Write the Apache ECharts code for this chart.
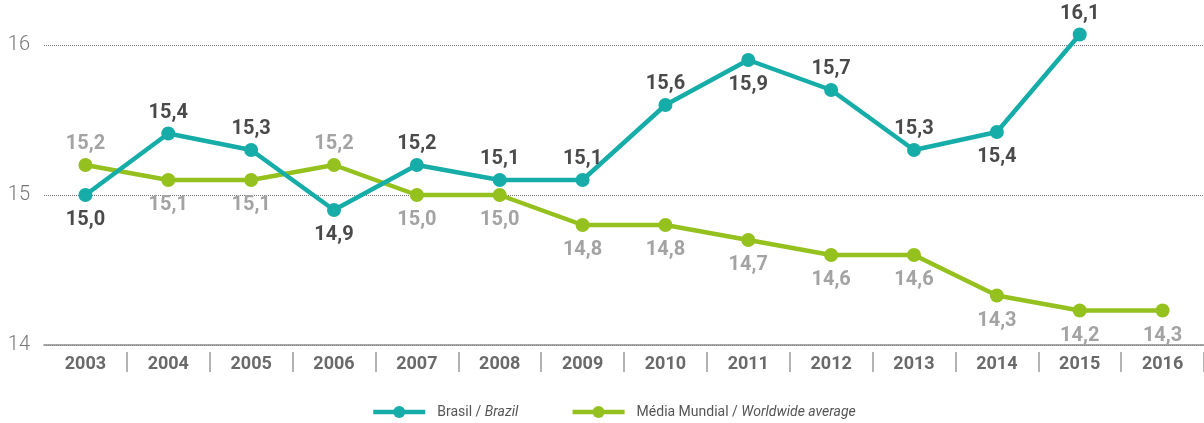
<!DOCTYPE html>
<html>
<head>
<meta charset="utf-8">
<script src="https://cdn.jsdelivr.net/npm/echarts@6/dist/echarts.min.js"></script>
<style>html,body{margin:0;padding:0;background:#fff}#c{width:1204px;height:423px}</style>
</head>
<body>
<div id="c"></div>
<script>
var years = ['2003','2004','2005','2006','2007','2008','2009','2010','2011','2012','2013','2014','2015','2016'];
var brazil = [15.0,15.41,15.3,14.9,15.2,15.1,15.1,15.6,15.9,15.7,15.3,15.42,16.07,null];
var brazilLabels = ['15,0','15,4','15,3','14,9','15,2','15,1','15,1','15,6','15,9','15,7','15,3','15,4','16,1',''];
var brazilPos = ['bottom','top','top','bottom','top','top','top','top','bottom','top','top','bottom','top','top'];
var world = [15.2,15.1,15.1,15.2,15.0,15.0,14.8,14.8,14.7,14.6,14.6,14.33,14.23,14.23];
var worldLabels = ['15,2','15,1','15,1','15,2','15,0','15,0','14,8','14,8','14,7','14,6','14,6','14,3','14,2','14,3'];
var worldPos = ['top','bottom','bottom','top','bottom','bottom','bottom','bottom','bottom','bottom','bottom','bottom','bottom','bottom'];
var yTicks = {min:14, max:16, interval:1};

var FONT = 'Roboto';
function mk(vals, labels, pos){
  return vals.map(function(v,i){
    return {value:v, label:{position:pos[i], formatter:labels[i], distance:(pos[i]==='top'?4:8)}};
  });
}
var chart = echarts.init(document.getElementById('c'), null, {renderer:'canvas'});
chart.setOption({
  animation:false,
  textStyle:{fontFamily:FONT},
  grid:{left:44, top:45, width:1164, height:300},
  legend:{
    top:405, left:371, padding:0, itemWidth:52, itemHeight:15, itemGap:52,
    lineStyle:{width:4.5},
    textStyle:{fontFamily:FONT, fontSize:14, color:'#555', padding:[0,0,0,7],
      rich:{n:{fontFamily:FONT,fontSize:14,color:'#555'}, i:{fontFamily:FONT,fontSize:14,color:'#555',fontStyle:'italic'}}},
    formatter:function(name){
      if(name==='Brasil') return '{n|Brasil / }{i|Brazil}';
      return '{n|Média Mundial / }{i|Worldwide average}';
    },
    data:['Brasil','Média Mundial']
  },
  xAxis:[{
    type:'category', data:years, boundaryGap:true, position:'bottom',
    axisLine:{show:true, lineStyle:{color:'#8c8c8c', width:1.5}},
    axisTick:{show:false},
    axisLabel:{fontFamily:FONT, fontSize:18, fontWeight:'bold', color:'#6a6a6a', margin:10}
  },{
    type:'category', data:years, boundaryGap:true, position:'bottom', offset:7,
    axisLine:{show:false},
    axisTick:{show:true, length:20, lineStyle:{color:'#9a9a9a', width:1.5},
      interval:function(index){ return index !== 0; }},
    axisLabel:{show:false}
  }],
  yAxis:{
    type:'value', min:yTicks.min, max:yTicks.max, interval:yTicks.interval,
    axisLine:{show:false}, axisTick:{show:false},
    axisLabel:{fontFamily:FONT, fontSize:20, fontWeight:300, color:'#777', margin:14},
    splitLine:{show:true, lineStyle:{color:'#777', type:[1,1], width:1}}
  },
  series:[{
    name:'Brasil', type:'line', data:mk(brazil, brazilLabels, brazilPos),
    xAxisIndex:0, clip:false,
    symbol:'circle', symbolSize:14,
    lineStyle:{color:'#16ADA9', width:4.5},
    itemStyle:{color:'#16ADA9'},
    label:{show:true, fontFamily:FONT, fontSize:20, fontWeight:'bold', color:'#4a4a4a'},
    z:3
  },{
    name:'Média Mundial', type:'line', data:mk(world, worldLabels, worldPos),
    xAxisIndex:0, clip:false,
    symbol:'circle', symbolSize:14,
    lineStyle:{color:'#95C11F', width:4.5},
    itemStyle:{color:'#95C11F'},
    label:{show:true, fontFamily:FONT, fontSize:20, fontWeight:'bold', color:'#a3a3a3'},
    z:2
  }]
});
</script>
</body>
</html>
